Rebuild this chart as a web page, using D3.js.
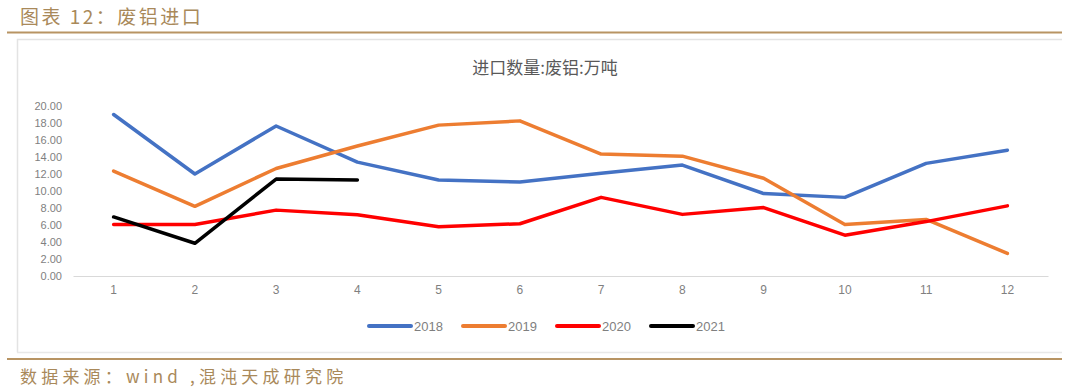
<!DOCTYPE html>
<html>
<head>
<meta charset="utf-8">
<script src="https://cdn.jsdelivr.net/npm/d3@7"></script>
<style>
  body { margin: 0; background: #fff; }
  svg { display: block; font-family: "Liberation Sans", Arial, "Noto Sans CJK SC", sans-serif; }
</style>
</head>
<body>
<svg id="chart" width="1080" height="389"></svg>
<script>
const months = [1, 2, 3, 4, 5, 6, 7, 8, 9, 10, 11, 12];
const v2018 = [19.0, 12.0, 17.65, 13.4, 11.3, 11.05, 12.1, 13.05, 9.7, 9.25, 13.25, 14.8];
const v2019 = [12.35, 8.2, 12.65, 15.3, 17.75, 18.25, 14.35, 14.1, 11.5, 6.05, 6.65, 2.65];
const v2020 = [6.05, 6.05, 7.75, 7.2, 5.8, 6.15, 9.25, 7.25, 8.05, 4.8, 6.4, 8.25];
const v2021 = [6.95, 3.85, 11.4, 11.3];
const yTicks = [0, 2, 4, 6, 8, 10, 12, 14, 16, 18, 20];

const series = [
    { name: '2018', color: '#4472C4', values: v2018 },
    { name: '2019', color: '#ED7D31', values: v2019 },
    { name: '2020', color: '#FF0000', values: v2020 },
    { name: '2021', color: '#000000', values: v2021 },
];

const svg = d3.select('#chart');
const gold = '#b89463';

// header and footer
svg.append('text')
    .attr('x', 20).attr('y', 24)
    .attr('font-family', '"Noto Sans CJK SC", sans-serif')
    .attr('font-size', '19px')
    .attr('fill', '#a9895a')
    .attr('letter-spacing', '2.5px')
    .text('图表 12：废铝进口');

svg.append('line')
    .attr('x1', 7).attr('x2', 1062).attr('y1', 32.5).attr('y2', 32.5)
    .attr('stroke', gold).attr('stroke-width', 2);

svg.append('path')
    .attr('d', 'M17.5,352.5 V39.5 H1062')
    .attr('fill', 'none')
    .attr('stroke', '#e3e3e3').attr('stroke-width', 1.5);
svg.append('line')
    .attr('x1', 17).attr('x2', 1062).attr('y1', 352.5).attr('y2', 352.5)
    .attr('stroke', '#e8e8e8').attr('stroke-width', 1.5);

svg.append('line')
    .attr('x1', 7).attr('x2', 1062).attr('y1', 359).attr('y2', 359)
    .attr('stroke', gold).attr('stroke-width', 2);

svg.append('text')
    .attr('x', 20).attr('y', 383)
    .attr('font-family', '"Noto Sans CJK SC", sans-serif')
    .attr('font-size', '17px')
    .attr('fill', '#a9895a')
    .attr('letter-spacing', '4.2px')
    .text('数据来源：wind ,混沌天成研究院');

// chart title
svg.append('text')
    .attr('x', 545).attr('y', 74)
    .attr('text-anchor', 'middle')
    .attr('font-family', '"Noto Sans CJK SC", sans-serif')
    .attr('font-size', '17px')
    .attr('fill', '#595959')
    .text('进口数量:废铝:万吨');

// scales
const x = d3.scaleBand().domain(months).range([73, 1048]);
const y = d3.scaleLinear().domain([0, 20]).range([276, 106]);

// y labels
svg.append('g')
    .selectAll('text')
    .data(yTicks)
    .join('text')
    .attr('x', 62)
    .attr('y', d => y(d) + 4)
    .attr('text-anchor', 'end')
    .attr('font-size', '11px')
    .attr('fill', '#7f7f7f')
    .text(d => d.toFixed(2));

// x axis
const xAxis = svg.append('g')
    .attr('transform', 'translate(0,276)')
    .call(d3.axisBottom(x).tickSize(0).tickPadding(9));
xAxis.select('.domain').attr('stroke', '#d9d9d9').attr('stroke-width', 1.2);
xAxis.selectAll('text')
    .attr('font-size', '12px')
    .attr('fill', '#7f7f7f')
    .attr('font-family', '"Liberation Sans", Arial, sans-serif');

// lines
const line = d3.line()
    .x((d, i) => x(months[i]) + x.bandwidth() / 2)
    .y(d => y(d));

series.forEach(s => {
    svg.append('path')
        .datum(s.values)
        .attr('d', line)
        .attr('fill', 'none')
        .attr('stroke', s.color)
        .attr('stroke-width', 3.5)
        .attr('stroke-linejoin', 'round')
        .attr('stroke-linecap', 'round');
});

// legend
const legend = svg.append('g')
    .selectAll('g')
    .data(series)
    .join('g')
    .attr('transform', (d, i) => `translate(${369 + i * 94},326)`);

legend.append('line')
    .attr('x1', 0).attr('x2', 42)
    .attr('stroke', d => d.color)
    .attr('stroke-width', 4)
    .attr('stroke-linecap', 'round');

legend.append('text')
    .attr('x', 45).attr('y', 5)
    .attr('font-size', '13px')
    .attr('fill', '#7f7f7f')
    .text(d => d.name);
</script>
</body>
</html>
